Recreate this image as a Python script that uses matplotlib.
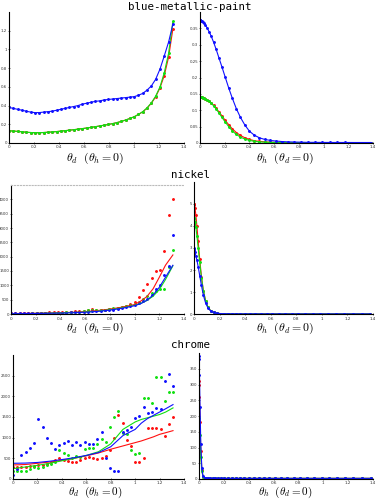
"""
BRDF 切片对比图: 测量值 (点) 与拟合 (实线), 三种材质 x 两种切片.
"""
import numpy as np
import matplotlib
matplotlib.use('Agg')
import matplotlib.pyplot as plt

plt.rcParams.update({
    'font.family': 'DejaVu Sans',
    'mathtext.fontset': 'cm',
    'axes.linewidth': 0.8,
    'xtick.labelsize': 3.0,
    'ytick.labelsize': 2.8,
})

C_R = '#ff1010'
C_G = '#10e010'
C_B = '#1010ff'

# ============================================================
# 数据
# ============================================================
# theta_d 采样角 (rad)
TD = [0.000, 0.035, 0.069, 0.104, 0.138, 0.173, 0.207, 0.242, 0.276, 0.311,
      0.345, 0.380, 0.414, 0.449, 0.483, 0.518, 0.552, 0.587, 0.621, 0.656,
      0.690, 0.725, 0.759, 0.794, 0.828, 0.863, 0.897, 0.932, 0.966, 1.001,
      1.035, 1.070, 1.104, 1.139, 1.173, 1.208, 1.242, 1.277, 1.311]
# theta_h 采样角 (rad, 近 0 处更密)
TH = [0.0000, 0.0009, 0.0036, 0.0082, 0.0145, 0.0227, 0.0327, 0.0445, 0.0581, 0.0735,
      0.0907, 0.1098, 0.1306, 0.1533, 0.1778, 0.2041, 0.2323, 0.2622, 0.2939, 0.3275,
      0.3629, 0.4001, 0.4391, 0.4800, 0.5226, 0.5671, 0.6133, 0.6614, 0.7113, 0.7630,
      0.8166, 0.8719, 0.9290, 0.9880, 1.0488, 1.1114, 1.1759, 1.2421, 1.3102, 1.3800]
# 拟合曲线取样角
FIT_TD = [0.0, 0.1, 0.2, 0.3, 0.4, 0.5, 0.6, 0.7, 0.8, 0.9, 1.0, 1.05, 1.1, 1.15,
          1.2, 1.25, 1.31]

# --- blue-metallic-paint ---
bmp_d_r = [0.130, 0.128, 0.124, 0.120, 0.115, 0.112, 0.110, 0.110, 0.112, 0.115,
           0.118, 0.122, 0.127, 0.132, 0.137, 0.142, 0.148, 0.154, 0.160, 0.167,
           0.174, 0.182, 0.190, 0.198, 0.207, 0.218, 0.230, 0.245, 0.262, 0.280,
           0.305, 0.333, 0.372, 0.425, 0.493, 0.590, 0.720, 0.920, 1.220]
bmp_d_g = [0.130, 0.128, 0.124, 0.120, 0.115, 0.112, 0.110, 0.110, 0.112, 0.115,
           0.118, 0.122, 0.127, 0.132, 0.137, 0.142, 0.148, 0.154, 0.160, 0.167,
           0.174, 0.182, 0.190, 0.198, 0.207, 0.218, 0.230, 0.245, 0.262, 0.280,
           0.305, 0.335, 0.375, 0.430, 0.500, 0.600, 0.750, 0.960, 1.300]
bmp_d_b = [0.380, 0.370, 0.360, 0.350, 0.340, 0.330, 0.325, 0.325, 0.330, 0.335,
           0.340, 0.350, 0.360, 0.370, 0.380, 0.390, 0.400, 0.415, 0.425, 0.435,
           0.445, 0.450, 0.460, 0.465, 0.470, 0.475, 0.480, 0.485, 0.490, 0.495,
           0.510, 0.530, 0.565, 0.610, 0.680, 0.790, 0.930, 1.080, 1.270]
bmp_h_r = [0.140, 0.140, 0.140, 0.140, 0.139, 0.138, 0.137, 0.135, 0.132, 0.128,
           0.122, 0.115, 0.106, 0.095, 0.083, 0.069, 0.056, 0.043, 0.032, 0.023,
           0.016, 0.011, 0.007, 0.005, 0.0035, 0.0025, 0.002, 0.0015, 0.001, 0.001,
           0.001, 0.001, 0.001, 0.001, 0.001, 0.001, 0.001, 0.001, 0.001, 0.001]
bmp_h_g = [0.140, 0.140, 0.140, 0.140, 0.139, 0.138, 0.137, 0.135, 0.132, 0.128,
           0.122, 0.114, 0.104, 0.092, 0.078, 0.064, 0.050, 0.037, 0.026, 0.018,
           0.012, 0.008, 0.005, 0.0035, 0.0025, 0.002, 0.0015, 0.001, 0.001, 0.001,
           0.001, 0.001, 0.001, 0.001, 0.001, 0.001, 0.001, 0.001, 0.001, 0.001]
bmp_h_b = [0.375, 0.375, 0.375, 0.374, 0.373, 0.370, 0.366, 0.360, 0.351, 0.340,
           0.326, 0.308, 0.286, 0.260, 0.232, 0.201, 0.168, 0.136, 0.105, 0.078,
           0.055, 0.036, 0.024, 0.016, 0.011, 0.008, 0.006, 0.0045, 0.0035, 0.003,
           0.0025, 0.002, 0.002, 0.0018, 0.0017, 0.0016, 0.0016, 0.0015, 0.0015, 0.0015]

# --- nickel ---
ni_d_r = [20, 20, 22, 25, 28, 30, 35, 40, 45, 55,
          60, 70, 75, 80, 85, 90, 95, 100, 140, 170,
          150, 140, 150, 170, 190, 210, 250, 290, 340, 420,
          610, 820, 1050, 1250, 1500, 1550, 2200, 3450, 4000]
ni_d_g = [10, 10, 12, 14, 16, 18, 20, 24, 28, 32,
          38, 44, 50, 58, 66, 75, 85, 100, 130, 150,
          140, 145, 150, 180, 200, 220, 250, 280, 320, 360,
          430, 520, 620, 720, 800, 860, 870, 1650, 2250]
ni_d_b = [20, 18, 18, 18, 20, 22, 24, 26, 28, 32,
          36, 40, 45, 50, 56, 62, 70, 80, 85, 95,
          100, 115, 125, 140, 155, 170, 200, 230, 270, 310,
          380, 440, 540, 680, 860, 1020, 1360, 1680, 2740]
ni_fit_r = [15, 20, 25, 35, 45, 60, 85, 120, 170, 240, 330, 450, 610, 880, 1280, 1700, 2060]
ni_fit_g = [10, 15, 20, 28, 38, 50, 70, 100, 150, 215, 300, 370, 470, 620, 850, 1200, 1680]
ni_fit_b = [10, 14, 18, 25, 33, 45, 62, 90, 135, 200, 290, 360, 480, 660, 930, 1280, 1700]
ni_h_r = [5.00, 5.00, 4.95, 4.80, 4.50, 4.00, 3.30, 2.50, 1.70, 1.05,
          0.60, 0.30, 0.15, 0.07, 0.035, 0.020, 0.012, 0.008, 0.006, 0.005,
          0.005, 0.005, 0.005, 0.005, 0.004, 0.004, 0.004, 0.004, 0.004, 0.004,
          0.004, 0.004, 0.004, 0.004, 0.004, 0.004, 0.004, 0.004, 0.004, 0.004]
ni_h_g = [4.35, 4.35, 4.30, 4.20, 3.95, 3.55, 3.00, 2.35, 1.65, 1.05,
          0.60, 0.30, 0.15, 0.07, 0.035, 0.020, 0.012, 0.008, 0.006, 0.005,
          0.005, 0.005, 0.005, 0.005, 0.004, 0.004, 0.004, 0.004, 0.004, 0.004,
          0.004, 0.004, 0.004, 0.004, 0.004, 0.004, 0.004, 0.004, 0.004, 0.004]
ni_h_b = [3.00, 2.95, 2.90, 2.80, 2.65, 2.45, 2.15, 1.75, 1.30, 0.85,
          0.50, 0.27, 0.14, 0.07, 0.035, 0.020, 0.012, 0.008, 0.006, 0.005,
          0.005, 0.005, 0.005, 0.005, 0.004, 0.004, 0.004, 0.004, 0.004, 0.004,
          0.004, 0.004, 0.004, 0.004, 0.004, 0.004, 0.004, 0.004, 0.004, 0.004]

# --- chrome ---
cr_d_r = [300, 280, 290, 300, 310, 320, 330, 340, 370, 400,
          450, 520, 470, 440, 400, 420, 450, 520, 530, 500,
          480, 500, 560, 700, 1000, 1550, 1350, 950, 800, 420,
          400, 520, 1230, 1230, 1230, 1220, 1050, 1340, 1500]
cr_d_g = [200, 190, 185, 200, 230, 280, 260, 290, 350, 370,
          410, 690, 640, 570, 500, 560, 540, 720, 740, 760,
          840, 960, 900, 1270, 1500, 1650, 1120, 1080, 700, 600,
          640, 1950, 1950, 1850, 2470, 2470, 1880, 2100, 2100]
cr_d_b = [100, 250, 580, 650, 740, 860, 1460, 1270, 980, 870,
          720, 815, 860, 910, 815, 890, 815, 900, 840, 840,
          970, 1130, 500, 270, 200, 190, 1130, 1180, 1250, 1470,
          1530, 1730, 1600, 1630, 1710, 1690, 2380, 2550, 2260]
cr_fit_r = [340, 350, 380, 410, 450, 500, 560, 630, 720, 800, 880, 920, 970, 1020, 1080, 1120, 1170]
cr_fit_g = [250, 290, 330, 380, 440, 500, 570, 660, 850, 1200, 1380, 1440, 1480, 1520, 1560, 1620, 1720]
cr_fit_b = [380, 385, 400, 430, 470, 515, 570, 640, 780, 1050, 1200, 1350, 1460, 1540, 1620, 1700, 1800]
cr_h_r = [310, 300, 260, 180, 90, 30, 7, 3, 2, 2,
          2, 2, 2, 2, 2, 2, 2, 2, 2, 2,
          2, 2, 2, 2, 2, 2, 2, 2, 2, 2,
          2, 2, 2, 2, 2, 2, 2, 2, 2, 2]
cr_h_g = [230, 225, 195, 140, 70, 25, 6, 2, 2, 2,
          2, 2, 2, 2, 2, 2, 2, 2, 2, 2,
          2, 2, 2, 2, 2, 2, 2, 2, 2, 2,
          2, 2, 2, 2, 2, 2, 2, 2, 2, 2]
cr_h_b = [390, 380, 330, 230, 110, 35, 8, 3, 2, 2,
          2, 2, 2, 2, 2, 2, 2, 2, 2, 2,
          2, 2, 2, 2, 2, 2, 2, 2, 2, 2,
          2, 2, 2, 2, 2, 2, 2, 2, 2, 2]

X_TICKS = [0, 0.2, 0.4, 0.6, 0.8, 1.0, 1.2, 1.4]
X_TICK_LABELS = ['0', '0.2', '0.4', '0.6', '0.8', '1', '1.2', '1.4']

W, H = 381, 499


def _axes(fig, l, t, r, b):
    # 像素坐标 -> figure 坐标
    ax = fig.add_axes([l / W, 1 - b / H, (r - l) / W, (b - t) / H])
    for s in ('top', 'right'):
        ax.spines[s].set_visible(False)
    ax.tick_params(direction='inout', length=2, width=0.5, pad=0.8, colors='#333333')
    ax.tick_params(axis='y', pad=0.4)
    ax.set_xlim(0, 1.4)
    ax.set_xticks(X_TICKS)
    ax.set_xticklabels(X_TICK_LABELS)
    return ax


def _dots(ax, x, ys, line=True):
    for y, c in ys:
        ax.plot(x, y, marker='.', markersize=2.2, color=c,
                linestyle='-' if line else 'none', linewidth=0.8)


def _yticks(ax, ticks, labels):
    ax.set_yticks(ticks)
    ax.set_yticklabels(labels)


fig = plt.figure(figsize=(W / 100, H / 100), dpi=100)

# ---- row 1: blue-metallic-paint ----
ax = _axes(fig, 9, 12, 184, 143)
_dots(ax, TD, [(bmp_d_r, C_R), (bmp_d_g, C_G), (bmp_d_b, C_B)])
ax.set_ylim(0, 1.4)
_yticks(ax, [0, 0.2, 0.4, 0.6, 0.8, 1.0, 1.2], ['0', '0.2', '0.4', '0.6', '0.8', '1', '1.2'])

ax = _axes(fig, 200, 12, 373, 143)
_dots(ax, TH, [(bmp_h_r, C_R), (bmp_h_g, C_G), (bmp_h_b, C_B)])
ax.set_ylim(0, 0.4)
_yticks(ax, [0, 0.05, 0.1, 0.15, 0.2, 0.25, 0.3, 0.35],
        ['0', '0.05', '0.1', '0.15', '0.2', '0.25', '0.3', '0.35'])

# ---- row 2: nickel ----
ax = _axes(fig, 11, 185, 184, 314)
ax.spines['top'].set_visible(True)
ax.spines['top'].set_linestyle(':')
ax.spines['top'].set_color('#bbbbbb')
_dots(ax, TD, [(ni_d_r, C_R), (ni_d_g, C_G), (ni_d_b, C_B)], line=False)
for y, c in [(ni_fit_r, C_R), (ni_fit_g, C_G), (ni_fit_b, C_B)]:
    ax.plot(FIT_TD, y, color=c, linewidth=0.8)
ax.set_ylim(0, 4500)
_yticks(ax, list(range(0, 4001, 500)), ['0', '500'] + [str(v) for v in range(1000, 4001, 500)])

ax = _axes(fig, 194, 182, 373, 314)
_dots(ax, TH, [(ni_h_r, C_R), (ni_h_g, C_G), (ni_h_b, C_B)])
ax.set_ylim(0, 6)
_yticks(ax, [0, 1, 2, 3, 4, 5], ['0', '1', '2', '3', '4', '5'])

# ---- row 3: chrome ----
ax = _axes(fig, 13, 355, 184, 479)
_dots(ax, TD, [(cr_d_r, C_R), (cr_d_g, C_G), (cr_d_b, C_B)], line=False)
for y, c in [(cr_fit_r, C_R), (cr_fit_g, C_G), (cr_fit_b, C_B)]:
    ax.plot(FIT_TD, y, color=c, linewidth=0.8)
ax.set_ylim(0, 3000)
_yticks(ax, [0, 500, 1000, 1500, 2000, 2500], ['0', '500', '1000', '1500', '2000', '2500'])

ax = _axes(fig, 199, 353, 373, 479)
_dots(ax, TH, [(cr_h_r, C_R), (cr_h_g, C_G), (cr_h_b, C_B)])
ax.set_ylim(0, 400)
_yticks(ax, list(range(0, 351, 50)), [str(v) for v in range(0, 351, 50)])

# ---- 标题与坐标轴说明 ----
for name, y in [('blue-metallic-paint', 7), ('nickel', 175), ('chrome', 345)]:
    fig.text(190 / W, 1 - y / H, name, ha='center', va='center',
             family='DejaVu Sans Mono', fontsize=7.8)

LBL_D = r'$\theta_d\ \ (\theta_h = 0)$'
LBL_H = r'$\theta_h\ \ (\theta_d = 0)$'
for y, fs in ((158, 8.5), (328, 8.5), (492, 8.0)):
    fig.text(95 / W, 1 - y / H, LBL_D, ha='center', va='center', fontsize=fs)
    fig.text(285 / W, 1 - y / H, LBL_H, ha='center', va='center', fontsize=fs)

fig.savefig('out.png', dpi=100, facecolor='white')
